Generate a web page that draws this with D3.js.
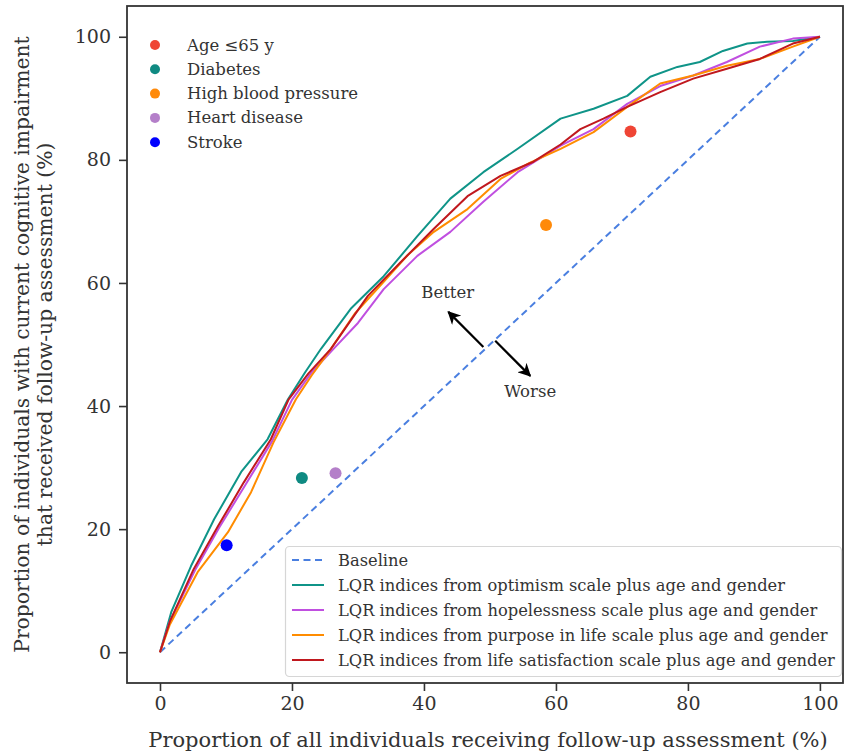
<!DOCTYPE html>
<html>
<head>
<meta charset="utf-8">
<script src="https://cdn.jsdelivr.net/npm/d3@7"></script>
<style>
  html, body { margin: 0; padding: 0; background: #fff; }
  svg { display: block; font-family: "DejaVu Serif", serif; }
</style>
</head>
<body>
<svg id="chart" width="845" height="755"></svg>
<script>
// ---------------- data ----------------
const xTicks = [0, 20, 40, 60, 80, 100];
const yTicks = [0, 20, 40, 60, 80, 100];

const baselineX = [0, 100];
const baselineY = [0, 100];

const optimismX = [0, 1.7, 4.7, 8.2, 12.3, 16.3, 19.4, 22, 24.4, 28.9, 33.9, 39, 44, 49, 54.2, 60.7, 65.7, 70.8, 74.3, 78.4, 81.8, 85.3, 89, 92, 95.9, 100];
const optimismY = [0, 6.5, 14, 21.6, 29.3, 34.6, 41.1, 45.5, 49.3, 55.8, 61.1, 67.6, 73.7, 78, 81.8, 86.7, 88.3, 90.4, 93.5, 95.1, 95.9, 97.7, 98.9, 99.2, 99.3, 100];

const hopelessX = [0, 1.5, 5.3, 9, 13, 17, 20, 23, 26.3, 30, 33.9, 39, 44, 49, 54.2, 60.7, 65.7, 70.8, 75.8, 80.8, 85.9, 90.9, 95.9, 100];
const hopelessY = [0, 5, 13.3, 20.3, 27.3, 34.3, 41, 45.5, 49.3, 53.5, 59, 64.4, 68.3, 73.2, 78, 82.3, 85, 89.1, 92, 93.7, 95.9, 98.4, 99.7, 100];

const purposeX = [0, 1.5, 5.7, 10.3, 13.8, 17.2, 20.6, 23, 25.9, 29.5, 33.9, 37.5, 41.5, 46.6, 51.6, 56, 60.7, 65.7, 70.8, 75.8, 80.8, 85.9, 90.9, 95.9, 100];
const purposeY = [0, 4.5, 13, 19.5, 26, 34.1, 41.1, 45, 49.3, 55, 60.2, 64.5, 68.3, 72, 76.9, 79.5, 81.8, 84.5, 88.6, 92.4, 93.7, 95.3, 96.4, 98.4, 100];

const satisfactionX = [0, 1.5, 5.1, 8.8, 12.7, 16.8, 19.5, 22.5, 25.9, 31.5, 36.5, 41.5, 46.6, 51.6, 56.6, 60.7, 63.7, 67.2, 70.8, 75.8, 80.8, 85.9, 90.9, 95.9, 100];
const satisfactionY = [0, 5, 13.5, 20.5, 27.6, 34.6, 41.1, 45.3, 49.3, 57.9, 63.4, 68.8, 74.1, 77.4, 79.7, 82.5, 85, 86.7, 88.6, 91, 93.2, 94.8, 96.4, 98.9, 100];

const lineNames = [
  "Baseline",
  "LQR indices from optimism scale plus age and gender",
  "LQR indices from hopelessness scale plus age and gender",
  "LQR indices from purpose in life scale plus age and gender",
  "LQR indices from life satisfaction scale plus age and gender"
];
const lineColors = ["#4a7fe0", "#0f9488", "#c04fe0", "#ff8c00", "#c0181e"];

const pointNames = ["Age \u226465 y", "Diabetes", "High blood pressure", "Heart disease", "Stroke"];
const pointX = [71.3, 21.5, 58.5, 26.6, 10.1];
const pointY = [84.6, 28.3, 69.4, 29.1, 17.4];
const pointColors = ["#ef4535", "#0f8a82", "#ff8a0a", "#b47fc9", "#0000ff"];

// ---------------- layout ----------------
const svg = d3.select("#chart");
const plot = { left: 127, right: 843, top: 6, bottom: 683 };

const x = d3.scaleLinear().domain([-5, 103.5]).range([plot.left, plot.right]);
const y = d3.scaleLinear().domain([-5, 105]).range([plot.bottom, plot.top]);

// axes
const xAxis = d3.axisBottom(x).tickValues(xTicks).tickSize(8).tickPadding(6);
const yAxis = d3.axisLeft(y).tickValues(yTicks).tickSize(8).tickPadding(8);

const gx = svg.append("g").attr("transform", `translate(0,${plot.bottom})`).call(xAxis);
const gy = svg.append("g").attr("transform", `translate(${plot.left},0)`).call(yAxis);
[gx, gy].forEach(g => {
  g.select(".domain").remove();
  g.selectAll(".tick line").attr("stroke", "#333").attr("stroke-width", 1.6);
  g.selectAll(".tick text").attr("fill", "#333").style("font-family", "DejaVu Serif").style("font-size", "19px");
});

// plot frame
svg.append("rect")
  .attr("x", plot.left).attr("y", plot.top)
  .attr("width", plot.right - plot.left).attr("height", plot.bottom - plot.top)
  .attr("fill", "none").attr("stroke", "#333").attr("stroke-width", 1.8);

// clip
svg.append("clipPath").attr("id", "clip").append("rect")
  .attr("x", plot.left).attr("y", plot.top)
  .attr("width", plot.right - plot.left).attr("height", plot.bottom - plot.top);
const pg = svg.append("g").attr("clip-path", "url(#clip)");

const line = d3.line().x(d => x(d[0])).y(d => y(d[1]));
const zip = (a, b) => a.map((v, i) => [v, b[i]]);

const seriesData = [
  zip(baselineX, baselineY),
  zip(optimismX, optimismY),
  zip(hopelessX, hopelessY),
  zip(purposeX, purposeY),
  zip(satisfactionX, satisfactionY)
];

// baseline
pg.append("path").datum(seriesData[0]).attr("d", line)
  .attr("fill", "none").attr("stroke", lineColors[0]).attr("stroke-width", 2)
  .attr("stroke-dasharray", "7,4.5");

// curves
[1, 2, 3, 4].forEach(i => {
  pg.append("path").datum(seriesData[i]).attr("d", line)
    .attr("fill", "none").attr("stroke", lineColors[i]).attr("stroke-width", 2)
    .attr("stroke-linejoin", "round");
});

// points
pg.selectAll("circle.pt").data(pointX.map((v, i) => i)).enter().append("circle")
  .attr("class", "pt")
  .attr("cx", i => x(pointX[i])).attr("cy", i => y(pointY[i]))
  .attr("r", 6).attr("fill", i => pointColors[i]);

// arrows (Better / Worse)
const defs = svg.append("defs");
defs.append("marker").attr("id", "ah")
  .attr("viewBox", "0 0 10 10").attr("refX", 9).attr("refY", 5)
  .attr("markerWidth", 6).attr("markerHeight", 6).attr("markerUnits", "strokeWidth")
  .attr("orient", "auto")
  .append("path").attr("d", "M0,0 L10,5 L0,10 L3,5 Z").attr("fill", "#000");

const arrowFromX = [49, 50.8];
const arrowFromY = [49.6, 50.6];
const arrowToX = [43.7, 56.1];
const arrowToY = [55.3, 44.9];
arrowFromX.forEach((v, i) => {
  svg.append("line")
    .attr("x1", x(arrowFromX[i])).attr("y1", y(arrowFromY[i]))
    .attr("x2", x(arrowToX[i])).attr("y2", y(arrowToY[i]))
    .attr("stroke", "#000").attr("stroke-width", 2.2)
    .attr("marker-end", "url(#ah)");
});
const annoText = ["Better", "Worse"];
const annoX = [43.6, 56.1];
const annoY = [57.6, 41.5];
annoText.forEach((t, i) => {
  svg.append("text").attr("x", x(annoX[i])).attr("y", y(annoY[i]))
    .attr("text-anchor", "middle").attr("fill", "#333")
    .style("font-size", "16.5px").text(t);
});

// top-left legend (points)
const lg1 = svg.append("g");
pointNames.forEach((n, i) => {
  const yy = 45 + i * 24.3;
  lg1.append("circle").attr("cx", 155).attr("cy", yy).attr("r", 5).attr("fill", pointColors[i]);
  lg1.append("text").attr("x", 187).attr("y", yy + 5.5).attr("fill", "#333")
    .style("font-size", "16.5px").text(n);
});

// bottom-right legend (lines)
const lg2 = svg.append("g");
lg2.append("rect").attr("x", 285.5).attr("y", 546.5).attr("width", 556).attr("height", 130)
  .attr("rx", 4).attr("fill", "#fff").attr("fill-opacity", 0.85)
  .attr("stroke", "#d6d6d6").attr("stroke-width", 1.2);
lineNames.forEach((n, i) => {
  const yy = 560 + i * 25;
  lg2.append("line").attr("x1", 292).attr("x2", 324).attr("y1", yy).attr("y2", yy)
    .attr("stroke", lineColors[i]).attr("stroke-width", 2)
    .attr("stroke-dasharray", i === 0 ? "7,4.5" : null);
  lg2.append("text").attr("x", 338).attr("y", yy + 5.5).attr("fill", "#333")
    .style("font-size", "16.3px").text(n);
});

// axis titles
svg.append("text").attr("x", 488).attr("y", 747)
  .attr("text-anchor", "middle").attr("fill", "#333").style("font-size", "21px")
  .text("Proportion of all individuals receiving follow-up assessment (%)");

const yt = svg.append("text").attr("transform", `translate(29,${(plot.top + plot.bottom) / 2}) rotate(-90)`)
  .attr("text-anchor", "middle").attr("fill", "#333").style("font-size", "20.3px");
yt.append("tspan").attr("x", 0).attr("dy", 0).text("Proportion of individuals with current cognitive impairment");
yt.append("tspan").attr("x", 0).attr("dy", 23).text("that received follow-up assessment (%)");
</script>
</body>
</html>
